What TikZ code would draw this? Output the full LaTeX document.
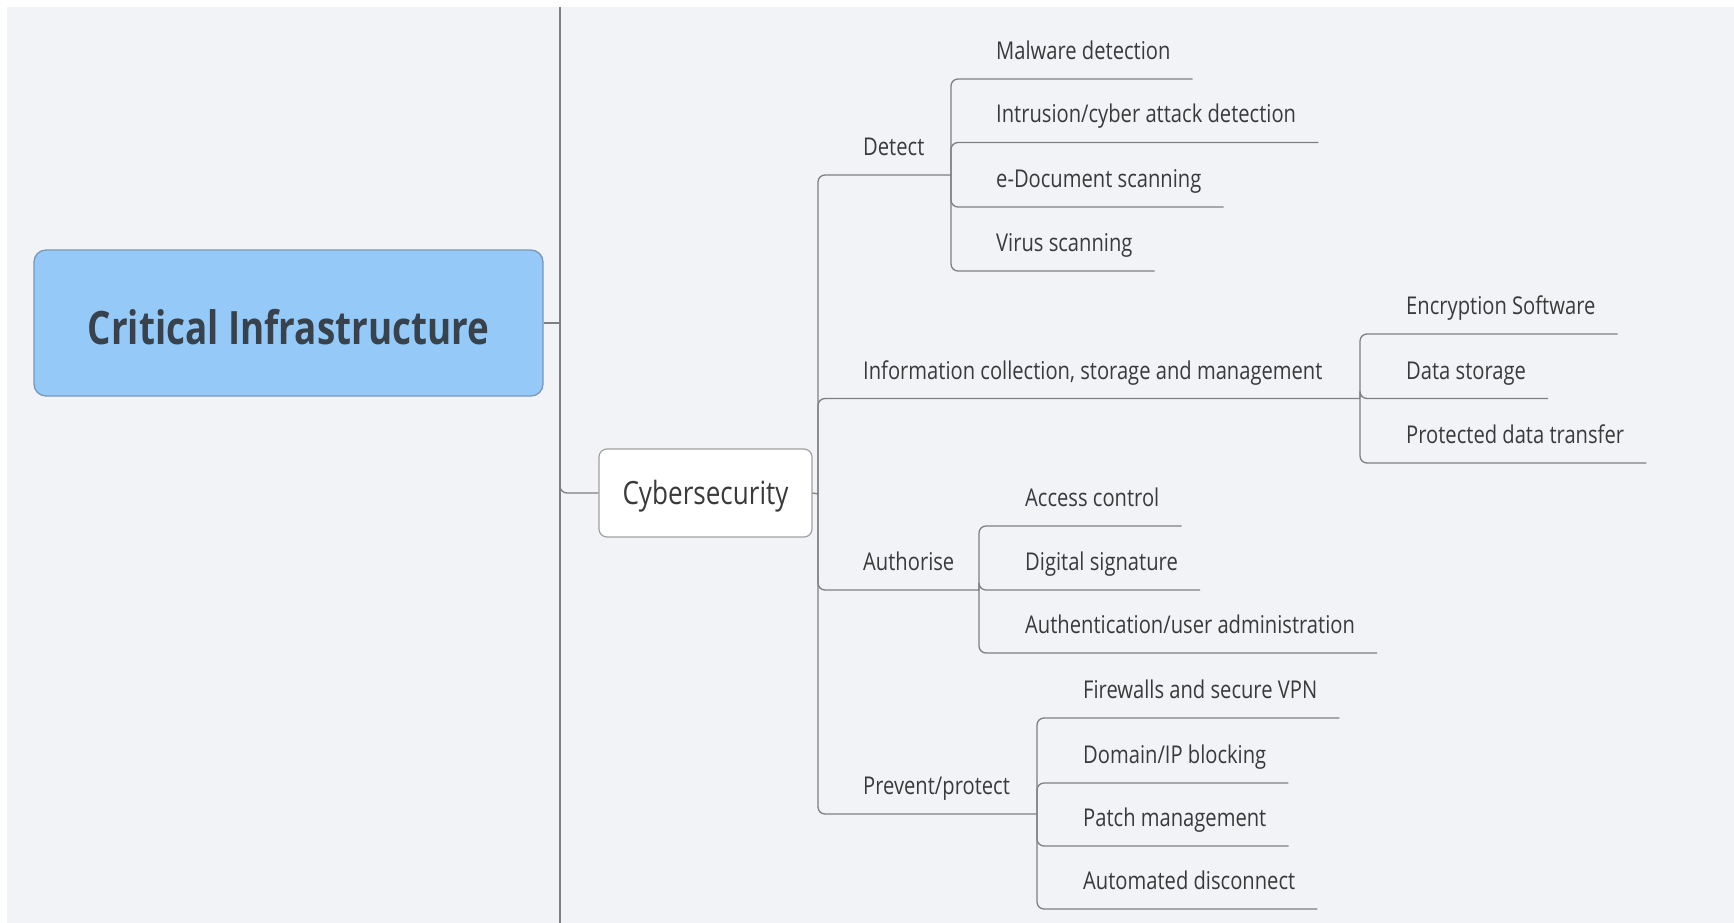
\documentclass[tikz,border=0pt]{standalone}
\usepackage{fontspec}
\setmainfont{Open Sans}[FakeStretch=0.823]
\newfontfamily\cifont{Open Sans}[FakeStretch=0.80]
\newfontfamily\cybfont{Open Sans}[FakeStretch=0.815]
\usetikzlibrary{calc}
\definecolor{bgc}{HTML}{F1F3F7}
\definecolor{linec}{HTML}{7F7F7F}
\definecolor{txtc}{HTML}{3A3A3A}
\definecolor{cifill}{HTML}{95CAF8}
\definecolor{cidraw}{HTML}{7A98B8}
\definecolor{citext}{HTML}{37424D}
\definecolor{cybdraw}{HTML}{A0A0A0}
\tikzset{
  conn/.style={draw=linec, line width=1.3pt, rounded corners=7pt},
  leaf/.style={font=\fontsize{24.5}{28}\selectfont, text=txtc, anchor=base west, inner sep=0pt},
  cinode/.style={draw=cidraw, line width=1.3pt, fill=cifill, rounded corners=12pt,
    minimum width=509pt, minimum height=146pt, inner sep=0pt,
    text height=46pt, text depth=4pt,
    font=\cifont\fontsize{46}{52}\selectfont\bfseries, text=citext},
  cybnode/.style={draw=cybdraw, line width=1.2pt, fill=white, rounded corners=8pt,
    minimum width=213pt, minimum height=88pt, inner sep=0pt,
    text height=28pt, text depth=6pt,
    font=\cybfont\fontsize{32}{38}\selectfont, text=txtc},
}
\newcommand{\ul}[1]{($(#1.base east)+(22,19.5)$)}
\begin{document}
\begin{tikzpicture}[x=1pt,y=-1pt]
\useasboundingbox (0,0) rectangle (1734,923);
\fill[white] (0,0) rectangle (1734,923);
\fill[bgc] (7,7) rectangle (1734,923);

% main nodes
\node[cinode] (ci) at (288.5,323) {Critical Infrastructure};
\node[cybnode] (cyb) at (705.5,493) {Cybersecurity};

% spine at x=560
\coordinate (vtop) at (560,7);
\coordinate (vbot) at (560,923);
\draw[conn] (vtop) -- (vbot);
\draw[conn] (ci.east) -- (ci.east -| vtop);
\coordinate (cyb0) at (560,470);
\draw[conn] (cyb0) |- (cyb.west);

% cyber junction
\coordinate (cj) at (818,494);
\draw[conn] (cyb.east) -- (cj);

% branch labels
\node[leaf] (det) at (863,155) {Detect};
\node[leaf] (inf) at (863,379) {Information collection, storage and management};
\node[leaf] (aut) at (863,570.5) {Authorise};
\node[leaf] (prv) at (863,794.5) {Prevent/protect};

% branch junctions
\coordinate (dj) at (951,175);
\coordinate (ij) at (1360,398.5);
\coordinate (aj) at (979,590);
\coordinate (pj) at (1037,814);
\draw[conn] (cj) |- (dj);
\draw[conn] (cj) |- (ij);
\draw[conn] (cj) |- (aj);
\draw[conn] (cj) |- (pj);

% Detect children
\node[leaf] (malw) at (996,59.5) {Malware detection};
\node[leaf] (intr) at (996,123) {Intrusion/cyber attack detection};
\node[leaf] (edoc) at (996,187.5) {e-Document scanning};
\node[leaf] (virs) at (996,251.5) {Virus scanning};
\foreach \n in {malw,intr,edoc,virs} \draw[conn] (dj) |- \ul{\n};

% Information children
\node[leaf] (encs) at (1406,314.5) {Encryption Software};
\node[leaf] (dsto) at (1406,379) {Data storage};
\node[leaf] (pdtr) at (1406,443.5) {Protected data transfer};
\foreach \n in {encs,dsto,pdtr} \draw[conn] (ij) |- \ul{\n};

% Authorise children
\node[leaf] (accs) at (1025,506.5) {Access control};
\node[leaf] (digs) at (1025,570.5) {Digital signature};
\node[leaf] (auth) at (1025,633.5) {Authentication/user administration};
\foreach \n in {accs,digs,auth} \draw[conn] (aj) |- \ul{\n};

% Prevent children
\node[leaf] (fwvp) at (1083,698.5) {Firewalls and secure VPN};
\node[leaf] (dmip) at (1083,763.5) {Domain/IP blocking};
\node[leaf] (ptch) at (1083,826.5) {Patch management};
\node[leaf] (autd) at (1083,889.5) {Automated disconnect};
\foreach \n in {fwvp,dmip,ptch,autd} \draw[conn] (pj) |- \ul{\n};
\end{tikzpicture}
\end{document}
